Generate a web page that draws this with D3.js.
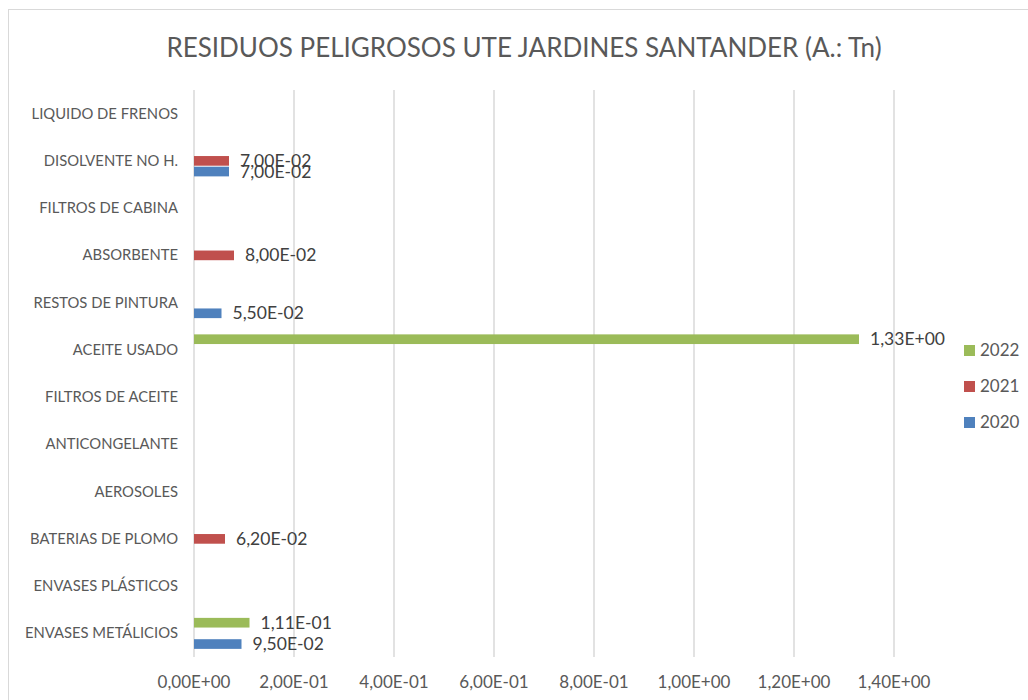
<!DOCTYPE html>
<html>
<head>
<meta charset="utf-8">
<script src="https://cdn.jsdelivr.net/npm/d3@7"></script>
<style>
  body { margin: 0; background: #fff; }
  svg { display: block; font-family: Lato, "Open Sans", sans-serif; }
</style>
</head>
<body>
<svg id="chart" width="1028" height="700"></svg>
<script>
'use strict';

// categories, bottom to top like the original
let categories = [
    "ENVASES METÁLICIOS", "ENVASES PLÁSTICOS", "BATERIAS DE PLOMO", "AEROSOLES",
    "ANTICONGELANTE", "FILTROS DE ACEITE", "ACEITE USADO", "RESTOS DE PINTURA",
    "ABSORBENTE", "FILTROS DE CABINA", "DISOLVENTE NO H.", "LIQUIDO DE FRENOS"
];
let values2020 = [0.095, null, null, null, null, null, null, 0.055, null, null, 0.07, null];
let values2021 = [null, null, 0.062, null, null, null, null, null, 0.08, null, 0.07, null];
let values2022 = [0.111, null, null, null, null, null, 1.33, null, null, null, null, null];
let years = ["2020", "2021", "2022"];
let colors = ["#4F81BD", "#C0504D", "#9BBB59"];
let xTicks = [0, 0.2, 0.4, 0.6, 0.8, 1.0, 1.2, 1.4];

let series = [values2020, values2021, values2022];

let svg = d3.select("#chart");

// chart frame
svg.append("rect")
    .attr("x", 8.5).attr("y", 9.5)
    .attr("width", 1040).attr("height", 720)
    .attr("fill", "none").attr("stroke", "#d9d9d9");

svg.append("text")
    .attr("x", 524).attr("y", 57)
    .attr("text-anchor", "middle")
    .attr("font-size", 26)
    .attr("fill", "#595959")
    .text("RESIDUOS PELIGROSOS UTE JARDINES SANTANDER (A.: Tn)");

let plotLeft = 194, plotTop = 90, plotBottom = 657;

let x = d3.scaleLinear().domain([0, 1.4]).range([plotLeft, 894]);
let y = d3.scaleBand().domain(categories.slice().reverse()).range([plotTop, plotBottom]);
// inner scale: 2020 at the bottom of each group
let inner = d3.scaleBand().domain(["2022", "2021", "2020"]).range([0, 32]);

function sci(v) {
    let parts = v.toExponential(2).split("e");
    let e = +parts[1];
    let es = (e < 0 ? "-" : "+") + String(Math.abs(e)).padStart(2, "0");
    return parts[0].replace(".", ",") + "E" + es;
}

// gridlines
svg.append("g")
    .selectAll("line")
    .data(xTicks)
    .enter().append("line")
    .attr("x1", function(d) { return x(d); })
    .attr("x2", function(d) { return x(d); })
    .attr("y1", plotTop).attr("y2", plotBottom)
    .attr("stroke", "#d9d9d9")
    .attr("stroke-width", 1.5);

// x tick labels
svg.append("g")
    .selectAll("text")
    .data(xTicks)
    .enter().append("text")
    .attr("x", function(d) { return x(d); })
    .attr("y", 688)
    .attr("text-anchor", "middle")
    .attr("font-size", 17)
    .attr("fill", "#595959")
    .text(function(d) { return sci(d); });

// category labels
svg.append("g")
    .selectAll("text")
    .data(categories)
    .enter().append("text")
    .attr("x", 178)
    .attr("y", function(d) { return y(d) + y.bandwidth() / 2 + 5; })
    .attr("text-anchor", "end")
    .attr("font-size", 14.8)
    .attr("fill", "#595959")
    .text(function(d) { return d; });

// bars
let barData = [];
series.forEach(function(vals, s) {
    vals.forEach(function(v, i) {
        if (v != null) {
            barData.push({ cat: categories[i], year: years[s], value: v, color: colors[s] });
        }
    });
});

function barY(d) {
    return y(d.cat) + y.bandwidth() / 2 - 16 + inner(d.year);
}

svg.append("g")
    .selectAll("rect")
    .data(barData)
    .enter().append("rect")
    .attr("x", x(0))
    .attr("y", function(d) { return barY(d) + 0.5; })
    .attr("width", function(d) { return x(d.value) - x(0); })
    .attr("height", inner.bandwidth() - 1)
    .attr("fill", function(d) { return d.color; });

svg.append("g")
    .selectAll("text")
    .data(barData)
    .enter().append("text")
    .attr("x", function(d) { return x(d.value) + 11; })
    .attr("y", function(d) { return barY(d) + inner.bandwidth() / 2 + 6; })
    .attr("font-size", 17.5)
    .attr("fill", "#404040")
    .text(function(d) { return sci(d.value); });

// legend, 2022 on top
let legendYears = [2, 1, 0];
let legend = svg.append("g")
    .selectAll("g")
    .data(legendYears)
    .enter().append("g")
    .attr("transform", function(d, i) { return "translate(964," + (350 + i * 36) + ")"; });

legend.append("rect")
    .attr("x", 0).attr("y", -5)
    .attr("width", 11).attr("height", 11)
    .attr("fill", function(d) { return colors[d]; });

legend.append("text")
    .attr("x", 16).attr("y", 6)
    .attr("font-size", 17)
    .attr("fill", "#595959")
    .text(function(d) { return years[d]; });
</script>
</body>
</html>
